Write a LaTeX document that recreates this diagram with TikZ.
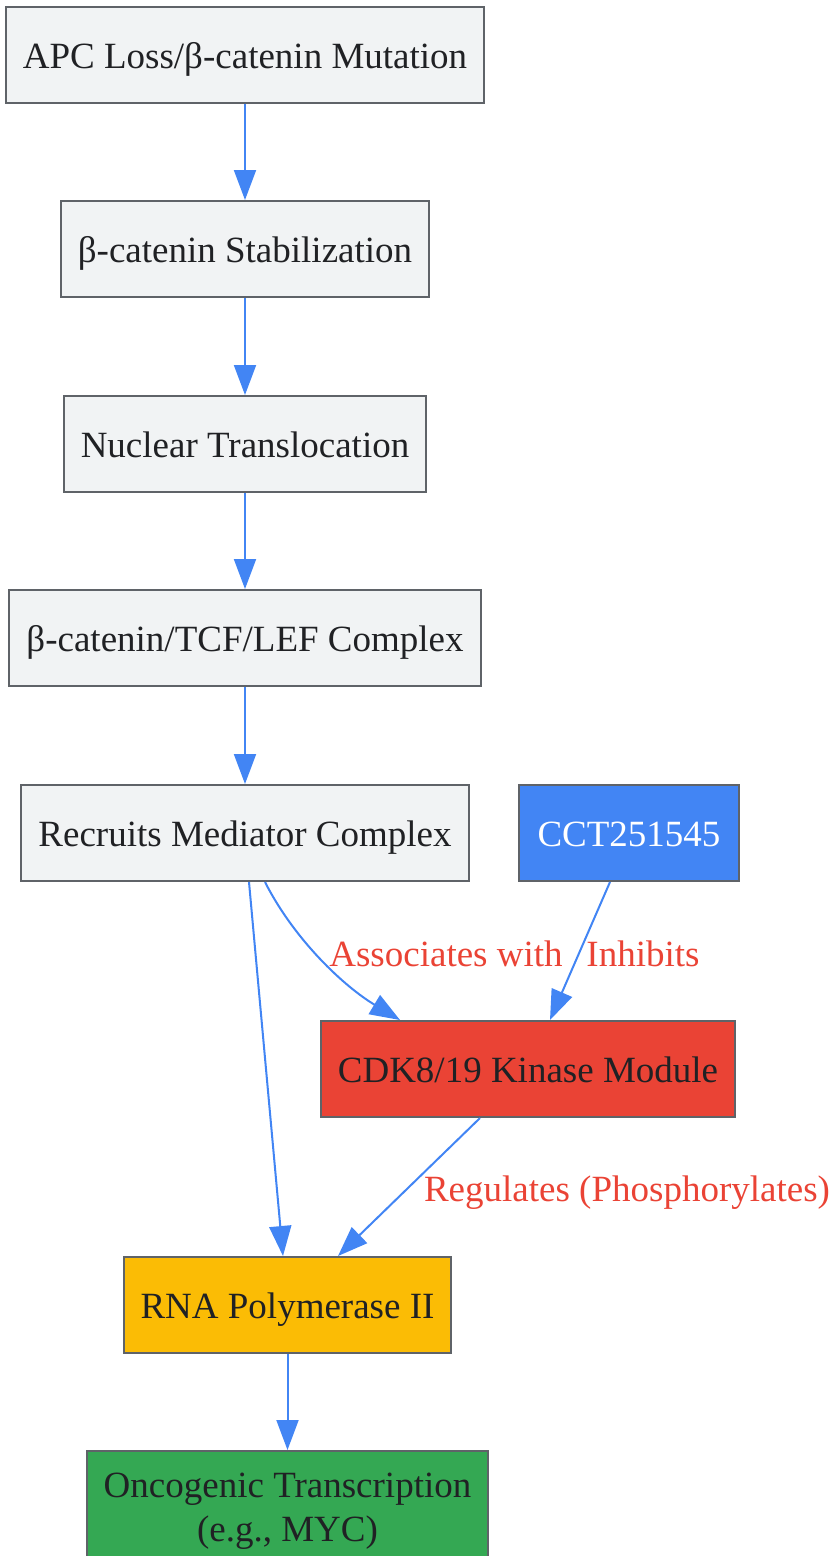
\documentclass[tikz,border=0pt]{standalone}
\usepackage{fontspec}
\setmainfont{Liberation Serif}
\usetikzlibrary{arrows.meta}

\definecolor{boxGray}{HTML}{F1F3F4}
\definecolor{lineGray}{HTML}{5F6368}
\definecolor{textDark}{HTML}{202124}
\definecolor{flowBlue}{HTML}{4285F4}
\definecolor{tagRed}{HTML}{EA4335}
\definecolor{polYellow}{HTML}{FBBC05}
\definecolor{oncoGreen}{HTML}{34A853}

\begin{document}
\begin{tikzpicture}[x=1pt,y=-1pt]
  \tikzset{box/.style = {draw=lineGray, line width=2pt, fill=boxGray, text=textDark, inner xsep=17pt, font=\fontsize{37}{44}\selectfont}}
  \tikzset{block/.style = {box, minimum height=96pt, text height=33pt, text depth=6pt}}
  \tikzset{flow/.style = {-{Triangle[length=30pt,width=22pt]}, draw=flowBlue, line width=2pt}}
  \tikzset{tag/.style = {text=tagRed, inner sep=0pt, anchor=base, font=\fontsize{37}{44}\selectfont}}

\useasboundingbox (0,0) rectangle (832,1556);

% main chain
\node[block] (apc)  at (245,54.5) {APC Loss/β-catenin Mutation};
\node[block] (stab) at (245,249) {β-catenin Stabilization};
\node[block] (nuc)  at (245,444) {Nuclear Translocation};
\node[block] (tcf)  at (245,638) {β-catenin/TCF/LEF Complex};
\node[block] (rec)  at (245,833) {Recruits Mediator Complex};

% inhibitor and kinase
\node[block, fill=flowBlue, text=white, inner xsep=19pt] (cct) at (629,833) {CCT251545};
\node[block, fill=tagRed] (cdk) at (528,1069) {CDK8/19 Kinase Module};

% output
\node[block, fill=polYellow] (rnap) at (287.5,1305) {RNA Polymerase II};
\node[box, fill=oncoGreen, align=center, minimum height=120pt] (onco) at (287.5,1511) {Oncogenic Transcription\\(e.g., MYC)};

  \path[flow] (apc) -- (stab);
  \path[flow] (stab) -- (nuc);
  \path[flow] (nuc) -- (tcf);
  \path[flow] (tcf) -- (rec);

    \path[flow] ([xshift=4pt]rec.south) -- ([xshift=-4.5pt]rnap.north);
    \path[flow] ([xshift=20pt]rec.south) .. controls (295,941) and (345,987) .. ([xshift=-128pt]cdk.north);
    \path[flow] ([xshift=-19pt]cct.south) -- ([xshift=22pt]cdk.north);
    \path[flow] ([xshift=-48pt]cdk.south) -- ([xshift=50.5pt]rnap.north);
    \path[flow] (rnap) -- (onco);

\node[tag] (assoc) at (446,966) {Associates with};
\node[tag] (inhib) at (643,966) {Inhibits};
\node[tag] (regul) at (627,1201) {Regulates (Phosphorylates)};

\end{tikzpicture}
\end{document}
